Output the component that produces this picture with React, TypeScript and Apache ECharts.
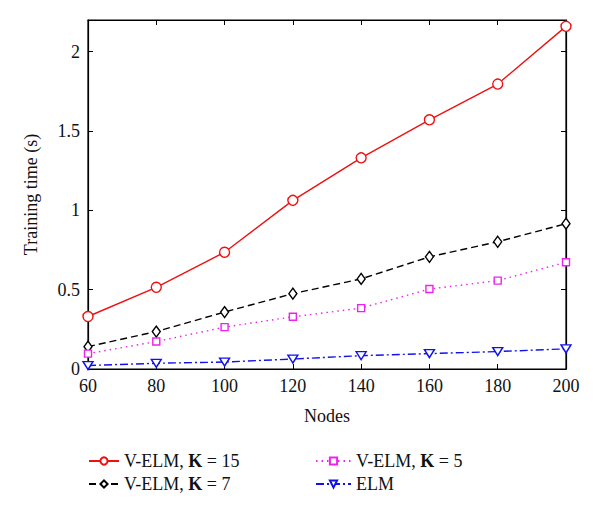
import React, { useEffect, useRef } from "react";
import * as echarts from "echarts";

const nodes = [60, 80, 100, 120, 140, 160, 180, 200];
const velmK15 = [0.331, 0.515, 0.736, 1.063, 1.331, 1.571, 1.796, 2.16];
const velmK7 = [0.141, 0.236, 0.359, 0.475, 0.568, 0.707, 0.802, 0.916];
const velmK5 = [0.097, 0.173, 0.264, 0.329, 0.384, 0.504, 0.557, 0.673];
const elm = [0.022, 0.036, 0.044, 0.063, 0.084, 0.097, 0.11, 0.127];

const seriesNames = ["V-ELM, K = 15", "V-ELM, K = 7", "V-ELM, K = 5", "ELM"];

const FONT = "Liberation Serif";
const FS = 18;

export default function App() {
  const ref = useRef<HTMLDivElement>(null);
  useEffect(() => {
    if (!ref.current) return;
    const chart = echarts.init(ref.current, undefined, { renderer: "svg" });
    const toPairs = (ys: number[]) => nodes.map((x, i) => [x, ys[i]]);
    const legendText = {
      fontFamily: FONT,
      fontSize: FS,
      color: "#111",
      lineHeight: 20,
      rich: {
        b: { fontFamily: FONT, fontSize: FS, fontWeight: "bold", color: "#111" },
      },
    };
    const fmt = (name: string) => name.replace(" K ", " {b|K} ");
    const axisCommon = {
      axisLine: { show: true, onZero: false, lineStyle: { color: "#000", width: 1.2 } },
      axisTick: { show: true, inside: true, length: 5, lineStyle: { color: "#000" } },
      splitLine: { show: false },
    };
    const mk = (
      name: string,
      ys: number[],
      color: string,
      symbol: string,
      size: number | number[],
      type: any,
      rotate = 0
    ) => ({
      name,
      type: "line",
      data: toPairs(ys),
      symbol,
      symbolSize: size,
      symbolRotate: rotate,
      showAllSymbol: true,
      lineStyle: { color, width: 1.4, type },
      itemStyle: { color: "#fff", borderColor: color, borderWidth: 1.4 },
      emphasis: { disabled: true },
      z: 3,
    });
    chart.setOption({
      animation: false,
      backgroundColor: "#fff",
      grid: {
        left: 88,
        top: 20,
        right: 34,
        bottom: 149,
        show: true,
        borderColor: "#000",
        borderWidth: 1.2,
        backgroundColor: "transparent",
      },
      legend: [
        {
          orient: "vertical",
          left: 83,
          top: 446,
          itemWidth: 30,
          itemHeight: 9,
          itemGap: 3,
          data: [seriesNames[0], seriesNames[1]],
          textStyle: legendText,
          formatter: fmt,
          selectedMode: false,
        },
        {
          orient: "vertical",
          left: 310,
          top: 446,
          itemWidth: 35,
          itemHeight: 9,
          itemGap: 3,
          data: [seriesNames[2], seriesNames[3]],
          textStyle: legendText,
          formatter: fmt,
          selectedMode: false,
        },
      ],
      xAxis: [
        {
          type: "value",
          min: 60,
          max: 200,
          interval: 20,
          position: "bottom",
          name: "Nodes",
          nameLocation: "middle",
          nameGap: 38,
          nameTextStyle: { fontFamily: FONT, fontSize: FS, color: "#111" },
          axisLabel: { fontFamily: FONT, fontSize: FS, color: "#111", margin: 8 },
          ...axisCommon,
        },
        {
          type: "value",
          min: 60,
          max: 200,
          interval: 20,
          position: "top",
          axisLabel: { show: false },
          ...axisCommon,
        },
      ],
      yAxis: [
        {
          type: "value",
          min: 0,
          max: 2.2,
          interval: 0.5,
          position: "left",
          name: "Training time (s)",
          nameLocation: "middle",
          nameGap: 48,
          nameTextStyle: { fontFamily: FONT, fontSize: FS, color: "#111" },
          axisLabel: {
            fontFamily: FONT,
            fontSize: FS,
            color: "#111",
            margin: 8,
            showMaxLabel: false,
          },
          ...axisCommon,
        },
        {
          type: "value",
          min: 0,
          max: 2.2,
          interval: 0.5,
          position: "right",
          axisLabel: { show: false },
          ...axisCommon,
        },
      ],
      series: [
        mk(seriesNames[0], velmK15, "#ee1111", "circle", 10, "solid"),
        mk(seriesNames[1], velmK7, "#000000", "diamond", [8, 11], [7, 4]),
        mk(seriesNames[2], velmK5, "#ee22ee", "rect", 7, [1.5, 4]),
        mk(seriesNames[3], elm, "#1111ee", "triangle", [10, 8], [8, 3, 2, 3], 180),
        {
          name: "frame",
          type: "line",
          xAxisIndex: 1,
          yAxisIndex: 1,
          data: [],
          silent: true,
        },
      ],
    });
    return () => chart.dispose();
  }, []);
  return <div ref={ref} style={{ width: 600, height: 518, margin: -8 }} />;
}
